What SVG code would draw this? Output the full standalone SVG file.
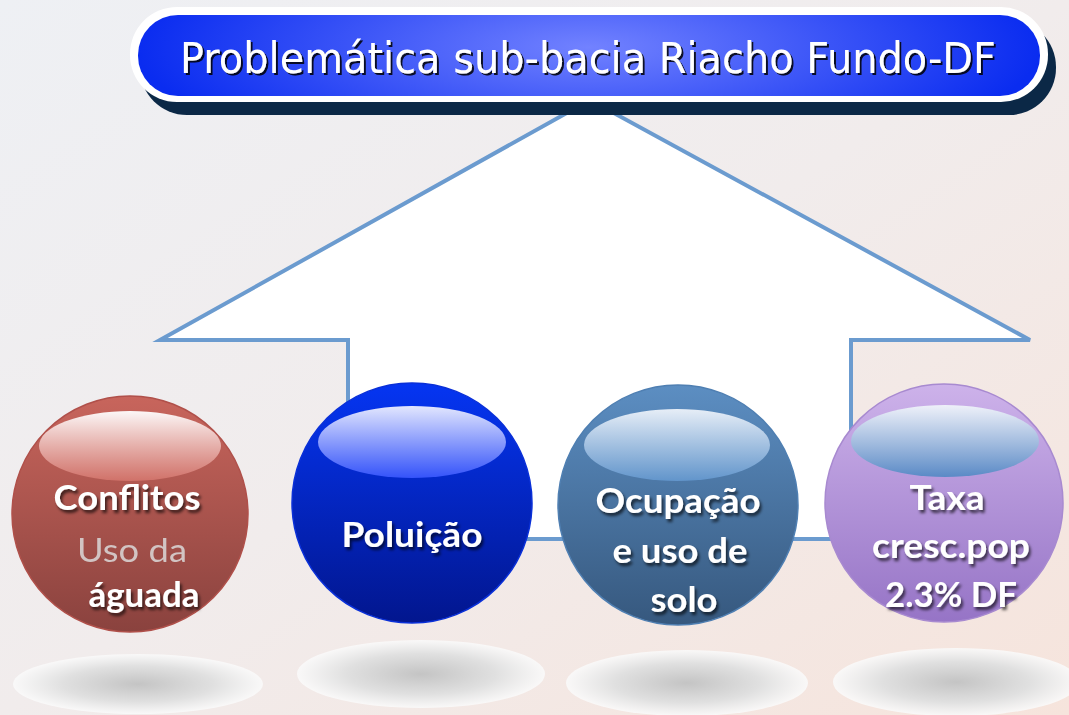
<svg xmlns="http://www.w3.org/2000/svg" width="1069" height="715" viewBox="0 0 1069 715">
<defs>
<linearGradient id="bg" x1="0" y1="0" x2="1" y2="1"><stop offset="0" stop-color="#eef0f4"/><stop offset="0.5" stop-color="#f1ecec"/><stop offset="1" stop-color="#f6e4dc"/></linearGradient>
<radialGradient id="titleFill" cx="0.5" cy="0.4" r="0.5" gradientTransform="translate(0.5 0.4) scale(1 3) translate(-0.5 -0.4)"><stop offset="0" stop-color="#7282ff"/><stop offset="1" stop-color="#0a2cf0"/></radialGradient>
<linearGradient id="gRed" x1="0" y1="0" x2="0" y2="1"><stop offset="0" stop-color="#c8655c"/><stop offset="1" stop-color="#8a423e"/></linearGradient>
<linearGradient id="gBlue" x1="0" y1="0" x2="0" y2="1"><stop offset="0" stop-color="#0535f2"/><stop offset="1" stop-color="#02168e"/></linearGradient>
<linearGradient id="gSteel" x1="0" y1="0" x2="0" y2="1"><stop offset="0" stop-color="#5c8ec2"/><stop offset="1" stop-color="#36587e"/></linearGradient>
<linearGradient id="gPurple" x1="0" y1="0" x2="0" y2="1"><stop offset="0" stop-color="#cdb2ea"/><stop offset="1" stop-color="#9674c6"/></linearGradient>
<linearGradient id="hRed" x1="0" y1="0" x2="0" y2="1"><stop offset="0" stop-color="#ffffff" stop-opacity="0.95"/><stop offset="1" stop-color="#d8786f" stop-opacity="0.8"/></linearGradient>
<linearGradient id="hBlue" x1="0" y1="0" x2="0" y2="1"><stop offset="0" stop-color="#eef0ff" stop-opacity="0.95"/><stop offset="1" stop-color="#3a58ff" stop-opacity="0.9"/></linearGradient>
<linearGradient id="hSteel" x1="0" y1="0" x2="0" y2="1"><stop offset="0" stop-color="#eef3fa" stop-opacity="0.95"/><stop offset="1" stop-color="#6498cf" stop-opacity="0.9"/></linearGradient>
<linearGradient id="hPurple" x1="0" y1="0" x2="0" y2="1"><stop offset="0" stop-color="#f0f4fa" stop-opacity="0.95"/><stop offset="1" stop-color="#5a8ac6"/></linearGradient>
<radialGradient id="shadowG" cx="0.5" cy="0.5" r="0.5"><stop offset="0" stop-color="#c4c4c4"/><stop offset="0.6" stop-color="#e0e0e0"/><stop offset="1" stop-color="#fafafa" stop-opacity="0.9"/></radialGradient>
<filter id="txtShadow" x="-20%" y="-40%" width="140%" height="180%">
<feGaussianBlur in="SourceAlpha" stdDeviation="1.8"/><feOffset dx="2" dy="3" result="b"/>
<feFlood flood-color="#000" flood-opacity="0.65"/><feComposite in2="b" operator="in"/>
<feMerge><feMergeNode/><feMergeNode in="SourceGraphic"/></feMerge>
</filter>
<filter id="titleShadow" x="-5%" y="-30%" width="110%" height="160%">
<feOffset in="SourceAlpha" dx="2" dy="2" result="o"/><feFlood flood-color="#000" flood-opacity="0.85"/><feComposite in2="o" operator="in"/>
<feMerge><feMergeNode/><feMergeNode in="SourceGraphic"/></feMerge>
</filter>
<filter id="soft"><feGaussianBlur stdDeviation="0.6"/></filter>
</defs>
<style>
.lbl{font-family:Lato,"Open Sans","Liberation Sans",sans-serif;font-weight:bold;fill:#ffffff;text-anchor:middle;}
.ttl{font-family:"DejaVu Sans","Liberation Sans",sans-serif;fill:#ffffff;text-anchor:middle;font-size:43px;}
.gnd{fill:url(#shadowG);}
</style>
<rect x="0" y="0" width="1069" height="715" fill="url(#bg)"/>

<g id="connectors">
<polygon points="160,340 590,100 1030,340 851,340 851,539 348,539 348,340" fill="#ffffff" stroke="#6b9bcf" stroke-width="4" stroke-linejoin="miter"/>
</g>

<g id="title">
<rect x="140" y="20" width="916" height="95" rx="47" fill="#0b2846"/>
<rect x="130" y="7" width="918" height="95" rx="47" fill="#ffffff"/>
<rect x="138" y="15" width="902" height="81" rx="40" fill="url(#titleFill)"/>
<text class="ttl" x="588" y="73" textLength="816" lengthAdjust="spacingAndGlyphs" filter="url(#titleShadow)">Problemática sub-bacia Riacho Fundo-DF</text>
</g>

<g id="node-conflitos">
<ellipse class="gnd" cx="138" cy="684" rx="125" ry="30"/>
<circle cx="130" cy="514" r="118" fill="url(#gRed)" stroke="#b0504a" stroke-width="1.5"/>
<ellipse cx="130" cy="446" rx="91" ry="35" fill="url(#hRed)"/>
<text class="lbl" x="127" y="510" font-size="34" textLength="147" lengthAdjust="spacingAndGlyphs" filter="url(#txtShadow)">Conflitos</text>
<text x="132" y="562" font-family="Lato,'Open Sans','Liberation Sans',sans-serif" font-size="32" fill="#d2c4c3" text-anchor="middle" textLength="110" lengthAdjust="spacingAndGlyphs" filter="url(#soft)">Uso da</text>
<text class="lbl" x="144" y="607" font-size="34" textLength="111" lengthAdjust="spacingAndGlyphs" filter="url(#txtShadow)">águada</text>
</g>

<g id="node-poluicao">
<ellipse class="gnd" cx="421" cy="674" rx="124" ry="34"/>
<circle cx="412" cy="503" r="120" fill="url(#gBlue)" stroke="#0a30d8" stroke-width="1.5"/>
<ellipse cx="412" cy="442" rx="94" ry="36" fill="url(#hBlue)"/>
<text class="lbl" x="412" y="547" font-size="34" textLength="141" lengthAdjust="spacingAndGlyphs" filter="url(#txtShadow)">Poluição</text>
</g>

<g id="node-ocupacao">
<ellipse class="gnd" cx="687" cy="683" rx="121" ry="33"/>
<circle cx="678" cy="505" r="120" fill="url(#gSteel)" stroke="#4f7fb2" stroke-width="1.5"/>
<ellipse cx="677" cy="445" rx="93" ry="36" fill="url(#hSteel)"/>
<text class="lbl" x="678" y="513" font-size="34" textLength="165" lengthAdjust="spacingAndGlyphs" filter="url(#txtShadow)">Ocupação</text>
<text class="lbl" x="680" y="563" font-size="34" textLength="135" lengthAdjust="spacingAndGlyphs" filter="url(#txtShadow)">e uso de</text>
<text class="lbl" x="684" y="612" font-size="34" textLength="67" lengthAdjust="spacingAndGlyphs" filter="url(#txtShadow)">solo</text>
</g>

<g id="node-taxa">
<ellipse class="gnd" cx="956" cy="682" rx="123" ry="34"/>
<circle cx="944" cy="503" r="119" fill="url(#gPurple)" stroke="#a88ad0" stroke-width="1.5"/>
<ellipse cx="945" cy="441" rx="94" ry="36" fill="url(#hPurple)"/>
<text class="lbl" x="947" y="510" font-size="34" textLength="75" lengthAdjust="spacingAndGlyphs" filter="url(#txtShadow)">Taxa</text>
<text class="lbl" x="951" y="558" font-size="34" textLength="158" lengthAdjust="spacingAndGlyphs" filter="url(#txtShadow)">cresc.pop</text>
<text class="lbl" x="951" y="607" font-size="34" textLength="132" lengthAdjust="spacingAndGlyphs" filter="url(#txtShadow)">2.3% DF</text>
</g>
</svg>
